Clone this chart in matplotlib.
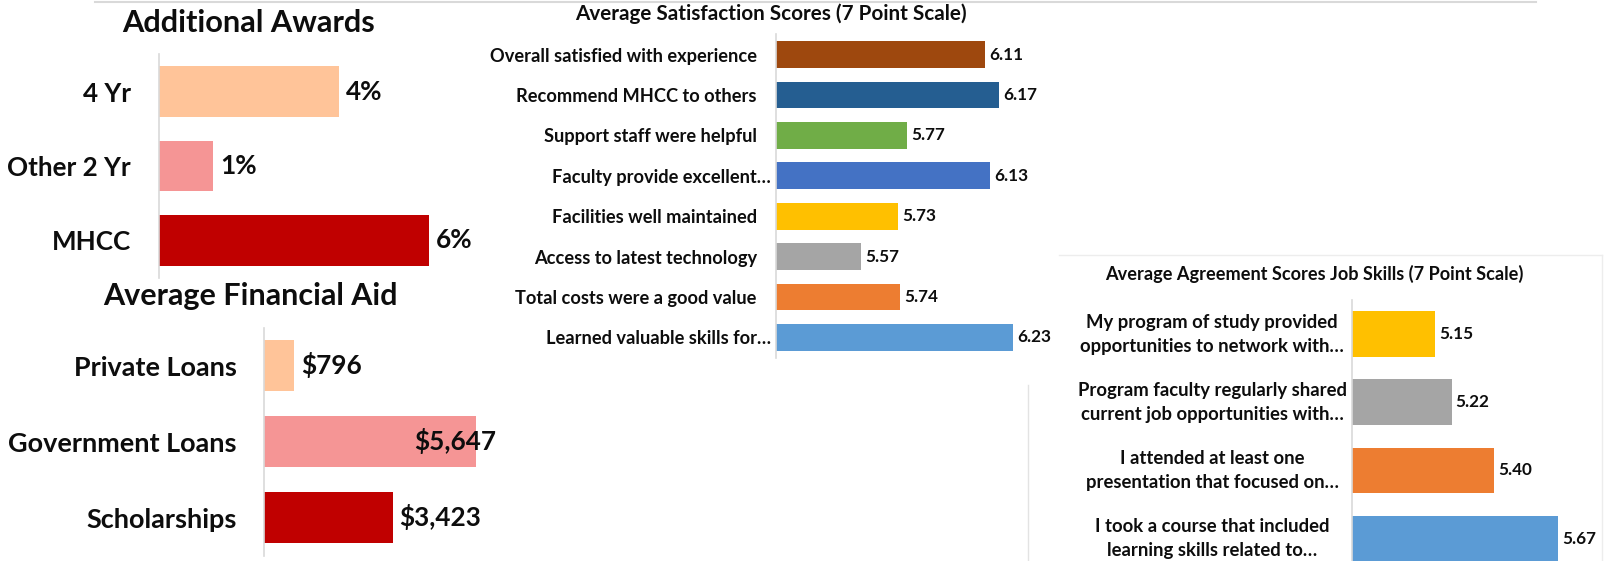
import matplotlib
matplotlib.use("Agg")
import matplotlib.pyplot as plt
import numpy as np
from matplotlib.font_manager import FontProperties
from matplotlib.lines import Line2D

# ---------------- data ----------------
award_cats = ["4 Yr", "Other 2 Yr", "MHCC"]
award_vals = [4.0, 1.2, 6.0]
award_labels = ["4%", "1%", "6%"]
award_colors = ["#FFC499", "#F59595", "#C00000"]

aid_cats = ["Private Loans", "Government Loans", "Scholarships"]
aid_vals = [796, 5647, 3423]
aid_colors = ["#FFC499", "#F59595", "#C00000"]

sat_cats = ["Overall satisfied with experience", "Recommend MHCC to others",
            "Support staff were helpful", "Faculty provide excellent…",
            "Facilities well maintained", "Access to latest technology",
            "Total costs were a good value", "Learned valuable skills for…"]
sat_vals = [6.11, 6.17, 5.77, 6.13, 5.73, 5.57, 5.74, 6.23]
sat_colors = ["#9E480E", "#255E91", "#70AD47", "#4472C4",
              "#FFC000", "#A5A5A5", "#ED7D31", "#5B9BD5"]

job_cats = ["My program of study provided\nopportunities to network with…",
            "Program faculty regularly shared\ncurrent job opportunities with…",
            "I attended at least one\npresentation that focused on…",
            "I took a course that included\nlearning skills related to…"]
job_vals = [5.15, 5.22, 5.40, 5.67]
job_colors = ["#FFC000", "#A5A5A5", "#ED7D31", "#5B9BD5"]

# ---------------- setup ----------------
W, H = 1617, 561
FAM = ["Lato", "DejaVu Sans"]
plt.rcParams["font.family"] = FAM
plt.rcParams["font.weight"] = "bold"
TXT = "#0D0D0D"
AXC = "#D9D9D9"

fig = plt.figure(figsize=(W / 100, H / 100), dpi=100)
fig.patch.set_facecolor("white")
renderer = fig.canvas.get_renderer()


def fit(s, target_px):
    fp = FontProperties(family=FAM, weight="bold", size=20)
    w, h, d = renderer.get_text_width_height_descent(s, fp, ismath=False)
    return 20 * target_px / w


def add_ax(l, t, r, b):
    return fig.add_axes([l / W, 1 - b / H, (r - l) / W, (b - t) / H])


def style(ax):
    for s in ["top", "right", "bottom"]:
        ax.spines[s].set_visible(False)
    ax.spines["left"].set_color(AXC)
    ax.spines["left"].set_linewidth(1.2)
    ax.tick_params(length=0)
    ax.set_xticks([])
    ax.patch.set_alpha(0)


PX = 0.72  # points per pixel

fs_title_aw = fit("Additional Awards", 253)
fs_title_aid = fit("Average Financial Aid", 294)
fs_cat_aw = fit("Other 2 Yr", 123)
fs_cat_aid = fit("Government Loans", 228)
fs_val_big = fit("$5,647", 82)
fs_sat_title = fit("Average Satisfaction Scores (7 Point Scale)", 391)
fs_sat = fit("Overall satisfied with experience", 267)
fs_job_title = fit("Average Agreement Scores Job Skills (7 Point Scale)", 416)
fs_job = fit("opportunities to network with…", 263)
fs_val_small = fit("6.11", 34)

# ---------------- Additional Awards ----------------
ax1 = add_ax(159, 54.25, 474, 277.75)
style(ax1)
y1 = np.arange(len(award_cats))
ax1.barh(y1, award_vals, height=0.68, color=award_colors)
ax1.set_xlim(0, 7)
ax1.set_ylim(len(award_cats) - 0.5, -0.5)
ax1.set_yticks(y1, award_cats, fontsize=fs_cat_aw, color=TXT)
ax1.tick_params(axis="y", pad=28 * PX)
for v, lab, yy in zip(award_vals, award_labels, y1):
    ax1.annotate(lab, (v, yy), xytext=(7, 0), textcoords="offset pixels",
                 ha="left", va="center", fontsize=fs_val_big, color=TXT,
                 annotation_clip=False)
fig.text(248.5 / W, 1 - 32 / H, "Additional Awards", ha="center", va="baseline",
         fontsize=fs_title_aw, color=TXT)

# ---------------- Average Financial Aid ----------------
ax2 = add_ax(264, 327.5, 489.4, 555.5)
style(ax2)
y2 = np.arange(len(aid_cats))
ax2.barh(y2, aid_vals, height=0.67, color=aid_colors)
ax2.set_xlim(0, 6000)
ax2.set_ylim(len(aid_cats) - 0.5, -0.5)
ax2.set_yticks(y2, aid_cats, fontsize=fs_cat_aid, color=TXT)
ax2.tick_params(axis="y", pad=27 * PX)
vmax = max(aid_vals)
for v, yy in zip(aid_vals, y2):
    lab = f"${v:,}"
    if v == vmax:
        ax2.annotate(lab, (v, yy), xytext=(20, 0), textcoords="offset pixels",
                     ha="right", va="center", fontsize=fs_val_big, color=TXT,
                     annotation_clip=False)
    else:
        ax2.annotate(lab, (v, yy), xytext=(7, 0), textcoords="offset pixels",
                     ha="left", va="center", fontsize=fs_val_big, color=TXT,
                     annotation_clip=False)
fig.text(250 / W, 1 - 305 / H, "Average Financial Aid", ha="center", va="baseline",
         fontsize=fs_title_aid, color=TXT)

# ---------------- Satisfaction ----------------
ax3 = add_ax(775.8, 34.4, 1075.2, 357.6)
style(ax3)
y3 = np.arange(len(sat_cats))
ax3.barh(y3, sat_vals, height=0.66, color=sat_colors)
ax3.set_xlim(5.2, 6.5)
ax3.set_ylim(len(sat_cats) - 0.5, -0.5)
ax3.set_yticks(y3, sat_cats, fontsize=fs_sat, color=TXT)
for t, c in zip(ax3.yaxis.get_major_ticks(), sat_cats):
    t.set_pad((5 if c.endswith("…") else 19) * PX)
for v, yy in zip(sat_vals, y3):
    ax3.annotate(f"{v:.2f}", (v, yy), xytext=(4, 0), textcoords="offset pixels",
                 ha="left", va="center", fontsize=fs_val_small, color=TXT,
                 annotation_clip=False)
fig.text(771 / W, 1 - 20 / H, "Average Satisfaction Scores (7 Point Scale)",
         ha="center", va="baseline", fontsize=fs_sat_title, color=TXT)

# ---------------- Job skills ----------------
ax4 = add_ax(1352, 300, 1589, 572.6)
style(ax4)
y4 = np.arange(len(job_cats))
ax4.barh(y4, job_vals, height=0.67, color=job_colors)
ax4.set_xlim(4.8, 5.8)
ax4.set_ylim(len(job_cats) - 0.5, -0.5)
ax4.set_yticks(y4, job_cats, fontsize=fs_job, color=TXT)
ax4.tick_params(axis="y", pad=140 * PX)
for lab in ax4.get_yticklabels():
    lab.set_horizontalalignment("center")
    lab.set_verticalalignment("center")
    lab.set_multialignment("center")
    lab.set_linespacing(1.5)
for v, yy in zip(job_vals, y4):
    ax4.annotate(f"{v:.2f}", (v, yy), xytext=(4, 0), textcoords="offset pixels",
                 ha="left", va="center", fontsize=fs_val_small, color=TXT,
                 annotation_clip=False)
fig.text(1314.7 / W, 1 - 280 / H, "Average Agreement Scores Job Skills (7 Point Scale)",
         ha="center", va="baseline", fontsize=fs_job_title, color=TXT)


# ---------------- frame lines ----------------
def pline(x0, y0, x1, y1, color, lw):
    fig.add_artist(Line2D([x0 / W, x1 / W], [1 - y0 / H, 1 - y1 / H],
                          transform=fig.transFigure, color=color, lw=lw))


pline(95, 1.5, 1536, 1.5, "#D9D9D9", 1.5)
pline(1059, 255, 1602, 255, "#EDEDED", 1.0)
pline(1602, 255, 1602, 561, "#EDEDED", 1.0)
pline(1028, 385, 1028, 561, "#E3E3E3", 1.0)

fig.savefig("out.png", dpi=100)
